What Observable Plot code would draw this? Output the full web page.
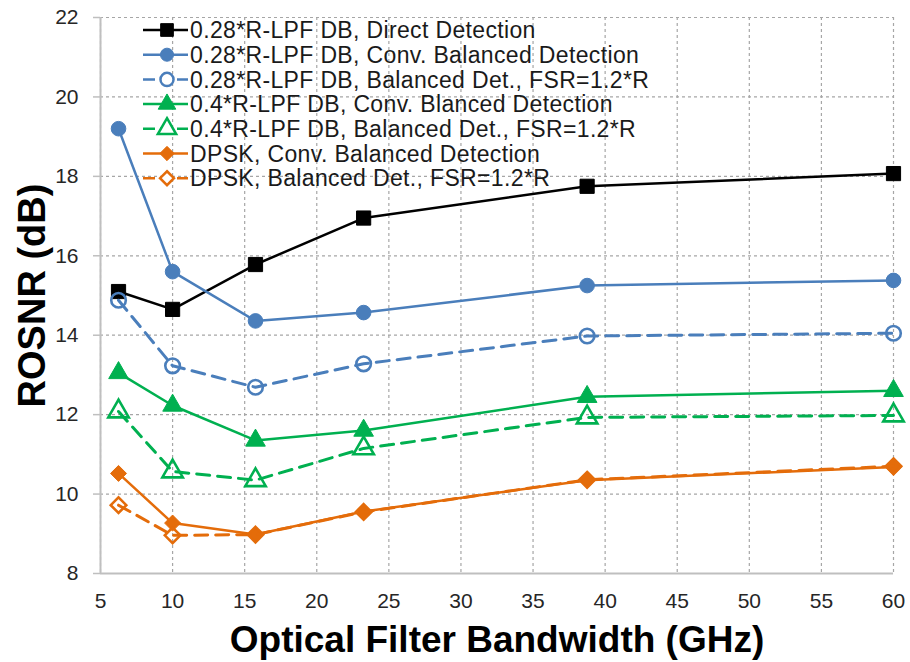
<!DOCTYPE html>
<html><head><meta charset="utf-8">
<script src="https://cdn.jsdelivr.net/npm/d3@7"></script>
<script src="https://cdn.jsdelivr.net/npm/@observablehq/plot@0.6"></script>
<style>
body{margin:0;background:#fff}
#chart{width:910px;height:662px}
</style>
</head><body><div id="chart"></div>
<script>
// ---- data ----
const bandwidth = [6.25, 10, 15.75, 23.25, 38.75, 60];
const seriesNames = [
  "0.28*R-LPF DB, Direct Detection",
  "0.28*R-LPF DB, Conv. Balanced Detection",
  "0.28*R-LPF DB, Balanced Det., FSR=1.2*R",
  "0.4*R-LPF DB, Conv. Blanced Detection",
  "0.4*R-LPF DB, Balanced Det., FSR=1.2*R",
  "DPSK, Conv. Balanced Detection",
  "DPSK, Balanced Det., FSR=1.2*R"
];
const lpf028Direct   = [15.1, 14.65, 15.78, 16.95, 17.75, 18.07];
const lpf028ConvBal  = [19.2, 15.6, 14.36, 14.57, 15.25, 15.38];
const lpf028BalFsr   = [14.88, 13.23, 12.69, 13.28, 13.98, 14.05];
const lpf04ConvBal   = [13.05, 12.23, 11.35, 11.6, 12.45, 12.6];
const lpf04BalFsr    = [12.08, 10.57, 10.35, 11.15, 11.93, 11.98];
const dpskConvBal    = [10.52, 9.27, 8.98, 9.56, 10.35, 10.68];
const dpskBalFsr     = [9.72, 8.96, 8.98, 9.55, 10.36, 10.7];
const xTicks = [5, 10, 15, 20, 25, 30, 35, 40, 45, 50, 55, 60];
const yTicks = [8, 10, 12, 14, 16, 18, 20, 22];
const xLabel = "Optical Filter Bandwidth (GHz)";
const yLabel = "ROSNR (dB)";

// ---- styles ----
const BLUE = "#4a7ebb", GREEN = "#00b050", ORANGE = "#e46c0a";
const styles = [
  {color: "#000000", symbol: d3.symbolSquare,   r: 8,   filled: true,  dash: null},
  {color: BLUE,      symbol: d3.symbolCircle,   r: 7.3, filled: true,  dash: null},
  {color: BLUE,      symbol: d3.symbolCircle,   r: 7.3, filled: false, dash: "13,8"},
  {color: GREEN,     symbol: d3.symbolTriangle, r: 7.3, filled: true,  dash: null},
  {color: GREEN,     symbol: d3.symbolTriangle, r: 7.6, filled: false, dash: "13,8"},
  {color: ORANGE,    symbol: d3.symbolDiamond2, r: 7.2, filled: true,  dash: null},
  {color: ORANGE,    symbol: d3.symbolDiamond2, r: 7,   filled: false, dash: "13,8"}
];

const seriesValues = [lpf028Direct, lpf028ConvBal, lpf028BalFsr, lpf04ConvBal, lpf04BalFsr, dpskConvBal, dpskBalFsr];
const rows = seriesNames.map((name, si) => bandwidth.map((x, i) => ({series: name, x, y: seriesValues[si][i]})));

const FONT = "'Liberation Sans', Arial, sans-serif";
const AXIS_GRAY = "#bfbfbf";

const seriesMarks = rows.flatMap((data, si) => {
  const s = styles[si];
  return [
    Plot.line(data, {x: "x", y: "y", stroke: s.color, strokeWidth: s.dash ? 3 : 2.5, strokeDasharray: s.dash}),
    Plot.dot(data, {x: "x", y: "y", symbol: s.symbol, r: s.r,
      fill: s.filled ? s.color : "none", stroke: s.color, strokeWidth: s.filled ? 1 : 2.6})
  ];
});

const chart = Plot.plot({
  width: 910, height: 662,
  marginLeft: 100, marginRight: 17, marginTop: 17, marginBottom: 89,
  style: {fontFamily: FONT, background: "#fff", overflow: "visible"},
  x: {domain: [5, 60], ticks: xTicks},
  y: {domain: [8, 22], ticks: yTicks},
  marks: [
    Plot.gridX(xTicks, {stroke: "#a6a6a6", strokeOpacity: 1, strokeDasharray: "3,3", strokeWidth: 1.2}),
    Plot.gridY(yTicks, {stroke: "#a6a6a6", strokeOpacity: 1, strokeDasharray: "3,3", strokeWidth: 1.2}),
    Plot.axisX(xTicks, {tickSize: 0, tickPadding: 20, fontSize: 21, fill: "#262626", label: null}),
    Plot.axisY(yTicks, {tickSize: 7, tickPadding: 15, fontSize: 21, fill: "#262626", stroke: AXIS_GRAY, strokeWidth: 1.5, label: null}),
    Plot.ruleX([5], {stroke: AXIS_GRAY, strokeWidth: 2}),
    Plot.ruleY([8], {stroke: AXIS_GRAY, strokeWidth: 2}),
    ...seriesMarks,
    Plot.text([xLabel], {frameAnchor: "bottom", dy: 67, lineAnchor: "middle", textAnchor: "middle", fontSize: 37, fontWeight: "bold", fill: "#000"}),
    Plot.text([yLabel], {frameAnchor: "left", dx: -68, rotate: -90, lineAnchor: "middle", textAnchor: "middle", fontSize: 38, fontWeight: "bold", fill: "#000"})
  ]
});
document.getElementById("chart").appendChild(chart);

// ---- legend (inside plot, top-left) ----
const svg = d3.select(chart);
const lg = svg.append("g").attr("font-family", FONT).attr("font-size", 23)
  .attr("letter-spacing", "0.35px").attr("fill", "#1a1a1a").attr("text-anchor", "start");
seriesNames.forEach((name, i) => {
  const s = styles[i];
  const y = 30 + i * 24.7;
  const g = lg.append("g").attr("transform", `translate(0,${y})`);
  g.append("line").attr("x1", 143).attr("x2", 188).attr("y1", 0).attr("y2", 0)
    .attr("stroke", s.color).attr("stroke-width", 2.5)
    .attr("stroke-dasharray", s.dash ? "12,5" : null);
  g.append("path").attr("transform", "translate(167,0)")
    .attr("d", d3.symbol(s.symbol, Math.PI * s.r * s.r * 0.8)())
    .attr("fill", s.filled ? s.color : "#fff").attr("stroke", s.color).attr("stroke-width", s.filled ? 1 : 2.5);
  g.append("text").attr("x", 190).attr("y", 0).attr("dy", "0.36em").attr("text-anchor", "start").text(name);
});
</script>
</body></html>
